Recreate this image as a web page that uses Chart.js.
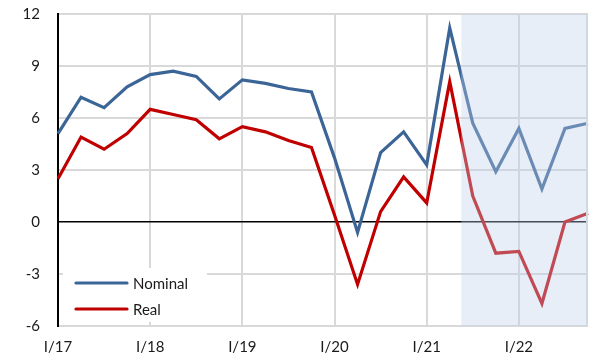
<!DOCTYPE html>
<html>
<head>
<meta charset="utf-8">
<script src="https://cdn.jsdelivr.net/npm/chart.js@4/dist/chart.umd.min.js"></script>
<style>
  html, body { margin: 0; padding: 0; background: #ffffff; }
  #wrap { width: 590px; height: 360px; position: relative; }
</style>
</head>
<body>
<div id="wrap"><canvas id="c" width="590" height="360"></canvas></div>
<script>
// Quarterly growth, year on year (%), Q1 2017 – Q4 2022
const quarters = [
  'I/17','II/17','III/17','IV/17',
  'I/18','II/18','III/18','IV/18',
  'I/19','II/19','III/19','IV/19',
  'I/20','II/20','III/20','IV/20',
  'I/21','II/21','III/21','IV/21',
  'I/22','II/22','III/22','IV/22'
];
const nominal = [5.1, 7.2, 6.6, 7.8, 8.5, 8.7, 8.4, 7.1, 8.2, 8.0, 7.7, 7.5,
                 3.7, -0.6, 4.0, 5.2, 3.3, 11.2, 5.7, 2.9, 5.4, 1.9, 5.4, 5.7];
const real    = [2.5, 4.9, 4.2, 5.1, 6.5, 6.2, 5.9, 4.8, 5.5, 5.2, 4.7, 4.3,
                 0.4, -3.6, 0.6, 2.6, 1.1, 8.1, 1.5, -1.8, -1.7, -4.7, 0.0, 0.5];
const yTicks = [-6, -3, 0, 3, 6, 9, 12];
// forecast period starts midway between II/21 and III/21
const forecastFrom = 17.5;

const seriesNames = ['Nominal', 'Real'];
const seriesColors = ['#3b6596', '#c00000'];
const FONT = 'Lato, "Open Sans", sans-serif';

const forecastShade = {
  id: 'forecastShade',
  afterDatasetsDraw(chart) {
    const { ctx, chartArea, scales } = chart;
    const x0 = scales.x.getPixelForValue(forecastFrom);
    ctx.save();
    ctx.fillStyle = 'rgba(190, 208, 232, 0.36)';
    ctx.fillRect(x0, chartArea.top, chartArea.right - x0, chartArea.bottom - chartArea.top);
    ctx.strokeStyle = '#d0d8e0';
    ctx.lineWidth = 2;
    ctx.beginPath();
    ctx.moveTo(chartArea.right - 1, chartArea.top);
    ctx.lineTo(chartArea.right - 1, chartArea.bottom);
    ctx.stroke();
    ctx.restore();
  }
};

const boxLegend = {
  id: 'boxLegend',
  afterDraw(chart) {
    const { ctx, chartArea } = chart;
    const left = chartArea.left + 5, top = chartArea.bottom - 58;
    ctx.save();
    ctx.fillStyle = '#ffffff';
    ctx.fillRect(left, top, 144, 54);
    seriesNames.forEach((name, i) => {
      const y = top + 15 + i * 26;
      ctx.strokeStyle = seriesColors[i];
      ctx.lineWidth = 3.2;
      ctx.lineCap = 'round';
      ctx.beginPath();
      ctx.moveTo(left + 13, y);
      ctx.lineTo(left + 64, y);
      ctx.stroke();
      ctx.fillStyle = '#1a1a1a';
      ctx.font = '15px ' + FONT;
      ctx.textBaseline = 'middle';
      ctx.textAlign = 'left';
      ctx.fillText(name, left + 70, y + 1);
    });
    ctx.restore();
  }
};

new Chart(document.getElementById('c'), {
  type: 'line',
  data: {
    labels: quarters,
    datasets: [
      { label: seriesNames[0], data: nominal, borderColor: seriesColors[0], borderWidth: 3.2,
        pointRadius: 0, tension: 0, borderJoinStyle: 'miter' },
      { label: seriesNames[1], data: real, borderColor: seriesColors[1], borderWidth: 3.2,
        pointRadius: 0, tension: 0, borderJoinStyle: 'miter' }
    ]
  },
  options: {
    responsive: false,
    animation: false,
    devicePixelRatio: 1,
    layout: { padding: { top: 14, right: 2, left: 0, bottom: 0 } },
    plugins: { legend: { display: false }, tooltip: { enabled: false } },
    scales: {
      x: {
        offset: false,
        grid: {
          drawTicks: false,
          color: (c) => (c.index % 4 === 0 ? '#d9d9d9' : 'rgba(0,0,0,0)'),
          lineWidth: 2
        },
        border: { display: false },
        ticks: {
          autoSkip: false,
          maxRotation: 0,
          padding: 12,
          color: '#1a1a1a',
          font: { family: FONT, size: 15 },
          callback: function (v, i) { return i % 4 === 0 ? quarters[i] : ''; }
        },
        afterFit(scale) {
          scale.height = 34;
          scale.paddingLeft = 0;
          scale.paddingRight = 0;
        }
      },
      y: {
        min: yTicks[0],
        max: yTicks[yTicks.length - 1],
        afterBuildTicks(scale) { scale.ticks = yTicks.map(v => ({ value: v })); },
        grid: {
          drawTicks: false,
          color: (c) => (c.tick && c.tick.value === 0 ? '#000000' : '#d9d9d9'),
          lineWidth: (c) => (c.tick && c.tick.value === 0 ? 1.5 : 2)
        },
        border: { display: true, color: '#000000', width: 2 },
        ticks: {
          autoSkip: false,
          padding: 18,
          color: '#1a1a1a',
          font: { family: FONT, size: 15 }
        },
        afterFit(scale) {
          scale.width = 58;
          scale.paddingTop = 0;
          scale.paddingBottom = 0;
        }
      }
    }
  },
  plugins: [forecastShade, boxLegend]
});
</script>
</body>
</html>
